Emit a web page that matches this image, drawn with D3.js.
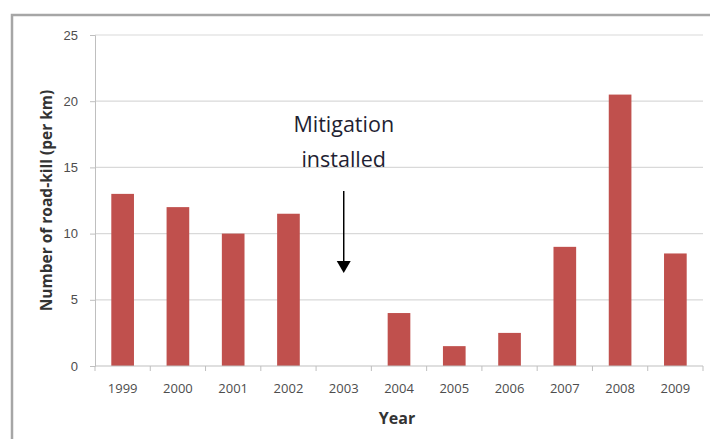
<!DOCTYPE html>
<html>
<head>
<meta charset="utf-8">
<script src="https://cdn.jsdelivr.net/npm/d3@7"></script>
<style>
  body { margin: 0; background: #fff; }
  svg { display: block; font-family: "Open Sans", "DejaVu Sans", sans-serif; }
</style>
</head>
<body>
<script>
// data
let years = ['1999','2000','2001','2002','2003','2004','2005','2006','2007','2008','2009'];
let roadkill = [13, 12, 10, 11.5, 0, 4, 1.5, 2.5, 9, 20.5, 8.5];
let yTicks = [0, 5, 10, 15, 20, 25];

let width = 710;
let height = 439;
let padding = { left: 95, right: 7, top: 35, bottom: 73 };

let svg = d3.select('body')
    .append('svg')
    .attr('width', width)
    .attr('height', height);

// outer frame (only top and left edges are visible)
svg.append('rect')
    .attr('x', 12)
    .attr('y', 15)
    .attr('width', width + 20)
    .attr('height', height + 20)
    .attr('fill', 'none')
    .attr('stroke', '#a6a6a6')
    .attr('stroke-width', 2.5);

let xScale = d3.scaleBand()
    .domain(years)
    .range([padding.left, width - padding.right])
    .paddingInner(0.59)
    .paddingOuter(0.295);

let yScale = d3.scaleLinear()
    .domain([0, 25])
    .range([height - padding.bottom, padding.top]);

// gridlines
svg.append('g')
    .selectAll('line')
    .data(yTicks.slice(1))
    .enter()
    .append('line')
    .attr('x1', padding.left)
    .attr('x2', width - padding.right)
    .attr('y1', d => yScale(d))
    .attr('y2', d => yScale(d))
    .attr('stroke', '#d9d9d9')
    .attr('stroke-width', 1.2);

// y axis
let yAxis = d3.axisLeft(yScale)
    .tickValues(yTicks)
    .tickSize(5)
    .tickPadding(12);

let gy = svg.append('g')
    .attr('transform', 'translate(' + padding.left + ',0)')
    .call(yAxis);
gy.select('.domain').attr('stroke', '#bfbfbf');
gy.selectAll('.tick line').attr('stroke', '#bfbfbf');
gy.selectAll('.tick text')
    .attr('fill', '#4d4d4d')
    .style('font-size', '13px');

// bars
svg.selectAll('.bar')
    .data(roadkill)
    .enter()
    .append('rect')
    .attr('class', 'bar')
    .attr('x', (d, i) => xScale(years[i]))
    .attr('y', d => yScale(d))
    .attr('width', xScale.bandwidth())
    .attr('height', d => yScale(0) - yScale(d))
    .attr('fill', '#c0504d');

// x axis with ticks between categories
let step = xScale.step();
let gx = svg.append('g')
    .attr('transform', 'translate(0,' + yScale(0) + ')');
gx.append('line')
    .attr('x1', padding.left)
    .attr('x2', width - padding.right)
    .attr('stroke', '#bfbfbf');
gx.selectAll('.xtick')
    .data(d3.range(years.length + 1))
    .enter()
    .append('line')
    .attr('class', 'xtick')
    .attr('x1', i => padding.left + i * step)
    .attr('x2', i => padding.left + i * step)
    .attr('y1', 0)
    .attr('y2', 5)
    .attr('stroke', '#bfbfbf');
gx.selectAll('.xlabel')
    .data(years)
    .enter()
    .append('text')
    .attr('class', 'xlabel')
    .attr('x', d => xScale(d) + xScale.bandwidth() / 2)
    .attr('y', 27)
    .attr('text-anchor', 'middle')
    .attr('fill', '#4d4d4d')
    .style('font-size', '13px')
    .text(d => d);

// axis titles
svg.append('text')
    .attr('x', 397)
    .attr('y', 424)
    .attr('text-anchor', 'middle')
    .attr('fill', '#333')
    .style('font-size', '16px')
    .style('font-weight', 'bold')
    .text('Year');

svg.append('text')
    .attr('transform', 'translate(52,' + yScale(12.5) + ') rotate(-90)')
    .attr('text-anchor', 'middle')
    .attr('fill', '#333')
    .style('font-size', '15.5px')
    .style('font-weight', 'bold')
    .text('Number of road-kill (per km)');

// annotation
let annX = xScale('2003') + xScale.bandwidth() / 2;
svg.append('text')
    .attr('x', annX)
    .attr('y', 132)
    .attr('text-anchor', 'middle')
    .attr('fill', '#1f1f33')
    .style('font-size', '21.5px')
    .text('Mitigation');
svg.append('text')
    .attr('x', annX)
    .attr('y', 167)
    .attr('text-anchor', 'middle')
    .attr('fill', '#1f1f33')
    .style('font-size', '21.5px')
    .text('installed');

svg.append('line')
    .attr('x1', annX)
    .attr('x2', annX)
    .attr('y1', 191)
    .attr('y2', 262)
    .attr('stroke', '#000')
    .attr('stroke-width', 1.5);
svg.append('path')
    .attr('d', 'M' + (annX - 7) + ',261 L' + (annX + 7) + ',261 L' + annX + ',273 Z')
    .attr('fill', '#000');
</script>
</body>
</html>
